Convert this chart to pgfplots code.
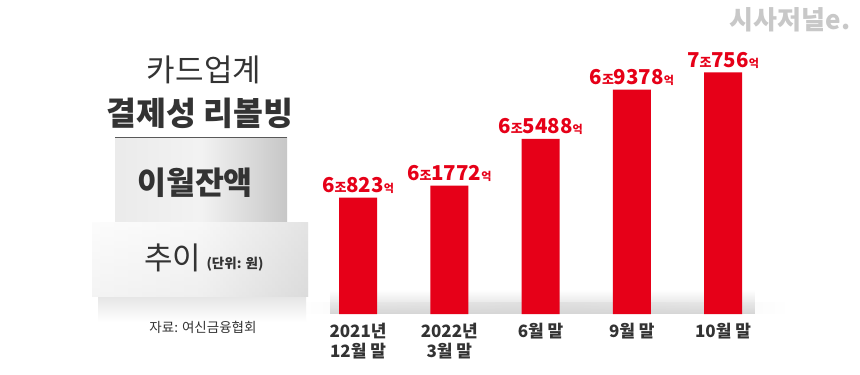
\documentclass[border=0pt]{standalone}
\usepackage{pgfplots}
\pgfplotsset{compat=1.18}
\usetikzlibrary{fadings}
\usepackage{fontspec}
\setmainfont{Noto Sans CJK KR}
\definecolor{barred}{RGB}{230,0,24}
\definecolor{txtgray}{RGB}{51,51,51}
\definecolor{wm}{RGB}{200,200,200}
\tikzfading[name=floorfade, top color=transparent!100, bottom color=transparent!0]
\tikzfading[name=sidefade, left color=transparent!100, right color=transparent!100, middle color=transparent!0]
\newcommand{\lab}[2]{{\fontsize{20.5}{20}\selectfont #1}{\fontsize{13}{13}\selectfont 조}{\fontsize{20.5}{20}\selectfont #2}{\fontsize{11}{11}\selectfont 억}}
\begin{document}
\begin{tikzpicture}
\useasboundingbox (0,0) rectangle (860pt,375pt);
\fill[white] (0,0) rectangle (860pt,375pt);
\begin{scope}[x=1pt,y=-1pt,shift={(0,375pt)}]
  % floor shadow
  \fill[black!16,path fading=floorfade] (330,290) rectangle (755,314);
  \fill[black!16,path fading=sidefade,opacity=0.5] (300,302) rectangle (785,314);
  % lower box shadow
  \shade[top color=black!10,bottom color=white] (98,297) rectangle (306,322);
  % upper ribbon
  \shade[left color=black!8,right color=black!22,middle color=black!5] (115,138) rectangle (287,225);
  \draw[black!65,line width=1pt] (115,138) -- (287,138);
  % lower ribbon
  \shade[top color=black!3,bottom color=black!11] (92,223) rectangle (308,297);
  \shade[left color=black!0,right color=black!16,middle color=black!3,opacity=0.6] (92,223) rectangle (308,297);
  % texts
  \node[text=txtgray,font=\fontsize{31}{31}\selectfont] at (204,70) {카드업계};
  \node[text=txtgray,font=\fontsize{32.5}{33}\selectfont\bfseries] at (200,113) {결제성 리볼빙};
  \node[text=txtgray,font=\fontsize{31.5}{32}\selectfont\bfseries] at (195,183) {이월잔액};
  \node[text=txtgray,font=\fontsize{31}{31}\selectfont,anchor=east] at (205,258) {추이};
  \node[text=txtgray,font=\fontsize{13.5}{13}\selectfont\bfseries,anchor=west] at (203,264) {(단위: 원)};
  \node[text=txtgray,font=\fontsize{13.5}{13}\selectfont] at (203,327) {자료: 여신금융협회};
  \node[text=wm,font=\fontsize{26}{26}\selectfont\bfseries] at (790,20) {시사저널e.};
\end{scope}
\begin{axis}[
  at={(312.4pt,61pt)}, anchor=south west,
  scale only axis, width=456.25pt, height=274pt,
  xmin=-0.5, xmax=4.5, ymin=51588, ymax=73322,
  ybar, bar width=38pt,
  axis line style={draw=none}, tick style={draw=none},
  ytick=\empty,
  xtick=data,
  xticklabels={{2021년\\12월 말},{2022년\\3월 말},{6월 말},{9월 말},{10월 말}},
  xticklabel style={align=center,font=\fontsize{17}{20}\selectfont\bfseries,text=txtgray,anchor=north,yshift=-1pt},
  clip=false,
  point meta=explicit symbolic,
  nodes near coords,
  nodes near coords style={text=barred,font=\bfseries,anchor=base,yshift=5pt,inner sep=0pt},
]
\addplot[fill=barred,draw=none] coordinates {
  (0,60823) [\lab{6}{823}]
  (1,61772) [\lab{6}{1772}]
  (2,65488) [\lab{6}{5488}]
  (3,69378) [\lab{6}{9378}]
  (4,70756) [\lab{7}{756}]
};
\end{axis}
\end{tikzpicture}
\end{document}
